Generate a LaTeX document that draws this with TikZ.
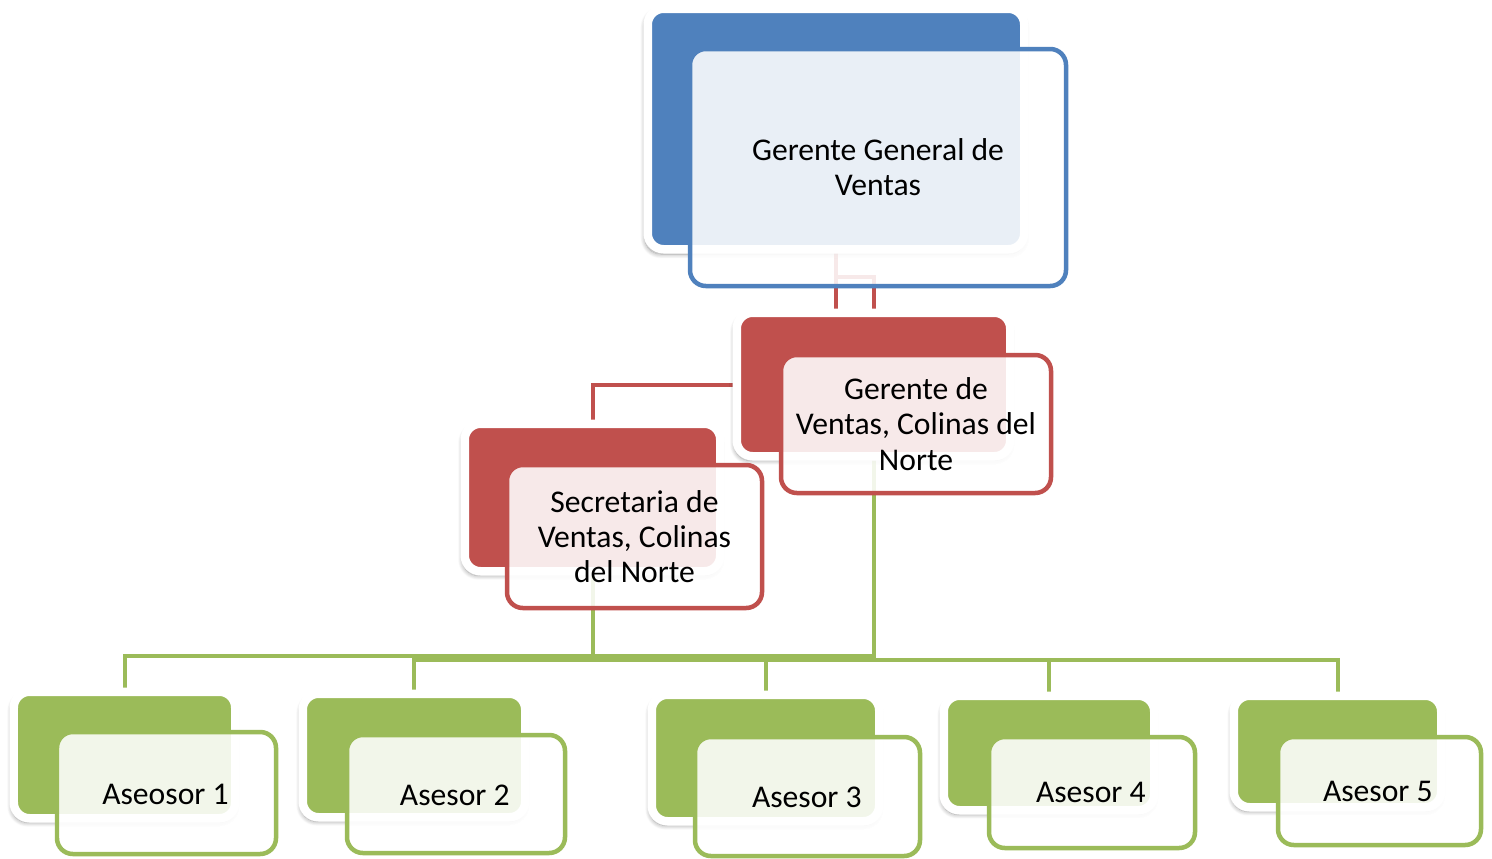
\documentclass[tikz,border=0pt]{standalone}
\usepackage{fontspec}
\setmainfont{Carlito}
\usetikzlibrary{positioning,fit,backgrounds,shadows.blur}
\definecolor{orgblue}{HTML}{4F81BD}
\definecolor{orgred}{HTML}{C0504D}
\definecolor{orggreen}{HTML}{9BBB59}

\begin{document}
\begin{tikzpicture}[x=0.02cm, y=-0.02cm,
    backbox/.style={rectangle, rounded corners=9pt, draw=white, line width=0.17cm, inner sep=0.085cm, blur shadow={shadow xshift=-0.6pt, shadow yshift=-2pt, shadow scale=1.01, shadow blur radius=2.5pt, shadow blur steps=8, shadow opacity=40}},
    frontbox/.style={rectangle, rounded corners=9pt, fill=white, fill opacity=0.88, line width=0.09cm, inner sep=0pt},
    boxtext/.style={font=\fontsize{18}{20}\selectfont, align=center, inner sep=0pt},
    redline/.style={orgred, line width=0.08cm},
    greenline/.style={orggreen, line width=0.08cm}
  ]
    \useasboundingbox (0,0) rectangle (1492,859);

    % Gerente general
    \node[backbox, fill=orgblue, fit={(652,13) (1020,245)}] (gg) {};
    \node[frontbox, draw=orgblue, fit={(690,49) (1066,286)}] (ggf) {};
    \node[boxtext] (ggt) at (ggf.center) {Gerente General de\\Ventas};

    % Gerente de ventas
    \node[backbox, fill=orgred, fit={(741,317) (1006,452)}] (gv) {};
    \node[frontbox, draw=orgred, fit={(781,355) (1051,493)}] (gvf) {};
    \node[boxtext] (gvt) at (gvf.center) {Gerente de\\Ventas, Colinas del\\Norte};

    % Secretaria
    \node[backbox, fill=orgred, fit={(469,428) (716,567)}] (sec) {};
    \node[frontbox, draw=orgred, fit={(507,465) (762,608)}] (secf) {};
    \node[boxtext] (sect) at (secf.center) {Secretaria de\\Ventas, Colinas\\del Norte};

    % Asesores
    \node[backbox, fill=orggreen, fit={(18,696) (231,814)}] (a1) {};
    \node[frontbox, draw=orggreen, fit={(57,732) (276,854)}] (a1f) {};
    \node[boxtext, anchor=east] (a1t) at (229,794) {Aseosor 1};

    \node[backbox, fill=orggreen, fit={(307,698) (521,813)}] (a2) {};
    \node[frontbox, draw=orggreen, fit={(347,735) (565,853)}] (a2f) {};
    \node[boxtext, anchor=east] (a2t) at (510,795) {Asesor 2};

    \node[backbox, fill=orggreen, fit={(656,699) (875,817)}] (a3) {};
    \node[frontbox, draw=orggreen, fit={(695,737) (920,856)}] (a3f) {};
    \node[boxtext, anchor=east] (a3t) at (862,797) {Asesor 3};

    \node[backbox, fill=orggreen, fit={(948,700) (1150,806)}] (a4) {};
    \node[frontbox, draw=orggreen, fit={(989,737) (1195,848)}] (a4f) {};
    \node[boxtext, anchor=east] (a4t) at (1146,792) {Asesor 4};

    \node[backbox, fill=orggreen, fit={(1238,700) (1437,803)}] (a5) {};
    \node[frontbox, draw=orggreen, fit={(1278,737) (1481,845)}] (a5f) {};
    \node[boxtext, anchor=east] (a5t) at (1433,791) {Asesor 5};

    % Conectores
    \coordinate (redbus) at (0,277);
    \coordinate (busA) at (0,656);
    \coordinate (busB) at (0,660);
    \begin{scope}[on background layer]
      \draw[redline] (gg.center) -- (gg.center |- gv.north);
      \draw[redline] (gg.center |- redbus) -| (gv.north);
      \draw[redline] (gv.center) -| (sec.north);
      \draw[greenline] (sec.center) -- (sec.center |- busA) -| (a1.north);
      \draw[greenline] (sec.center |- busA) -- (gv.center |- busA);
      \draw[greenline] (gv.center) -- (gv.center |- busB);
      \foreach \n in {a2,a3,a4,a5}
        \draw[greenline] (gv.center |- busB) -| (\n.north);
    \end{scope}
\end{tikzpicture}
\end{document}
